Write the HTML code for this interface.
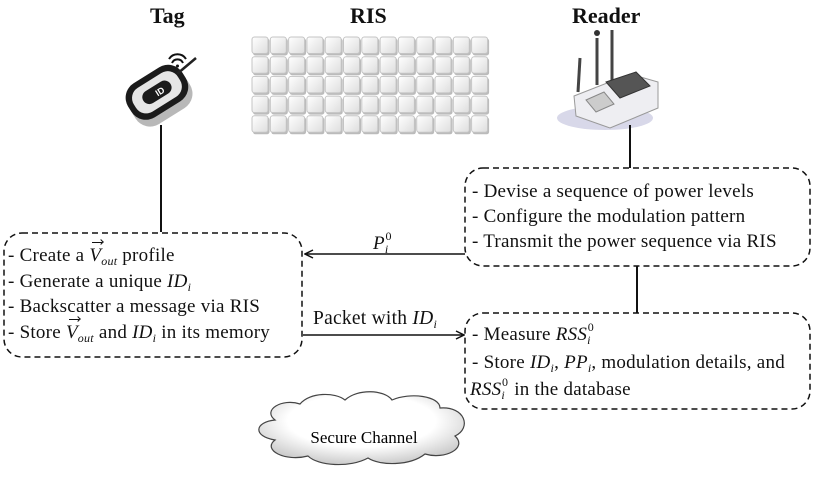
<!DOCTYPE html>
<html><head><meta charset="utf-8"><style>
html,body{margin:0;padding:0;background:#fff;}
body{width:814px;height:477px;position:relative;overflow:hidden;font-family:"Liberation Serif","DejaVu Serif",serif;color:#111;}
.t{position:absolute;font-size:19px;letter-spacing:0.25px;white-space:nowrap;line-height:1;}
.h{position:absolute;font-weight:bold;font-size:22px;line-height:1;}
i{font-style:italic;}
.sb{font-size:12px;font-style:italic;vertical-align:-4px;}
.sp{font-size:12px;position:relative;top:-9px;left:-3px;margin-right:-2px;}
.v{position:relative;font-style:italic;}
.v:before{content:"";position:absolute;left:3px;top:-3px;width:10px;border-top:1.3px solid #111;}
.v:after{content:"";position:absolute;left:10px;top:-5.5px;width:3px;height:3px;border-top:1.3px solid #111;border-right:1.3px solid #111;transform:rotate(45deg);}
</style></head><body>
<svg width="814" height="477" style="position:absolute;left:0;top:0">
<defs>
<linearGradient id="cg" x1="0" y1="0" x2="1" y2="1"><stop offset="0" stop-color="#fff"/><stop offset="1" stop-color="#ddd"/></linearGradient>
<radialGradient id="cl" cx="0.5" cy="0.4" r="0.6"><stop offset="0.6" stop-color="#fff"/><stop offset="1" stop-color="#ccc"/></radialGradient>
<marker id="ah" markerWidth="10" markerHeight="10" refX="9" refY="5" orient="auto" markerUnits="userSpaceOnUse"><path d="M1,1 L9,5 L1,9" fill="none" stroke="#111" stroke-width="1.5"/></marker>
</defs>
<g id="ris"></g>
<g transform="translate(158,94) rotate(-32)">
<rect x="-32" y="-14" width="64" height="40" rx="17" fill="#888" opacity="0.6"/>
<rect x="-32" y="-22" width="64" height="40" rx="17" fill="#1b1b1b"/>
<rect x="-26" y="-16" width="52" height="28" rx="12" fill="#e6e6e6"/>
<rect x="-16" y="-9" width="32" height="14" rx="7" fill="#1b1b1b"/>
<text x="3" y="2" font-size="9" fill="#fff" font-family="Liberation Sans" font-weight="bold" text-anchor="middle">ID</text>
</g>
<line x1="177" y1="74" x2="196" y2="58" stroke="#222" stroke-width="2.5"/>
<path d="M169,59 a10,10 0 0 1 17,0 M172,63 a6,6 0 0 1 11,0" fill="none" stroke="#111" stroke-width="2"/>
<circle cx="177.5" cy="66" r="1.5" fill="#111"/>
<ellipse cx="605" cy="118" rx="48" ry="12" fill="#c8c8e0" opacity="0.7"/>
<line x1="578" y1="92" x2="580" y2="58" stroke="#444" stroke-width="3"/>
<line x1="597" y1="85" x2="597" y2="38" stroke="#444" stroke-width="3"/>
<circle cx="597" cy="33" r="3" fill="#333"/>
<line x1="612" y1="80" x2="612" y2="30" stroke="#444" stroke-width="3"/>
<path d="M574,96 L630,74 L658,82 L658,108 L610,128 L576,116 Z" fill="#eeeef2" stroke="#999"/>
<path d="M606,82 L636,72 L650,86 L620,98 Z" fill="#555" stroke="#333"/>
<path d="M586,100 L604,92 L614,104 L596,112 Z" fill="#ccc" stroke="#888"/>
<line x1="161" y1="125" x2="161" y2="232" stroke="#111" stroke-width="2"/>
<line x1="630" y1="125" x2="630" y2="168" stroke="#111" stroke-width="2"/>
<line x1="637" y1="266" x2="637" y2="313" stroke="#111" stroke-width="2"/>
<rect x="4" y="233" width="298" height="124" rx="18" fill="none" stroke="#111" stroke-width="1.5" stroke-dasharray="6,4"/>
<rect x="465" y="168" width="345" height="98" rx="18" fill="none" stroke="#111" stroke-width="1.5" stroke-dasharray="6,4"/>
<rect x="465" y="313" width="345" height="96" rx="18" fill="none" stroke="#111" stroke-width="1.5" stroke-dasharray="6,4"/>
<line x1="465" y1="254" x2="305" y2="254" stroke="#111" stroke-width="1.5" marker-end="url(#ah)"/>
<line x1="303" y1="335" x2="464" y2="335" stroke="#111" stroke-width="1.5" marker-end="url(#ah)"/>
<path d="M275,420 C262,410 282,398 300,404 C310,392 335,392 345,400 C358,388 385,390 392,400 C410,392 440,396 440,408 C465,406 472,428 455,436 C468,448 445,460 425,454 C410,466 380,466 368,458 C350,468 318,466 308,456 C285,462 262,450 275,440 C252,436 255,422 275,420 Z" fill="url(#cl)" stroke="#444" stroke-width="1.2"/>
<text x="364" y="443" font-size="17" text-anchor="middle" font-family="Liberation Serif">Secure Channel</text>
</svg>
<script>
(function(){var g=document.getElementById('ris'),s='';for(var r=0;r<5;r++)for(var c=0;c<13;c++){var x=252+c*18.3,y=37+r*19.7;s+='<rect x="'+(x+1)+'" y="'+(y+1.5)+'" width="16.5" height="17" rx="2.5" fill="#bbb"/><rect x="'+x+'" y="'+y+'" width="16" height="16.5" rx="2.5" fill="url(#cg)" stroke="#c4c4c4" stroke-width="1"/>';}g.innerHTML=s;})();
</script>
<div class="h" style="left:150px;top:5px">Tag</div>
<div class="h" style="left:350px;top:5px">RIS</div>
<div class="h" style="left:572px;top:5px">Reader</div>

<div class="t" style="left:8px;top:246px">- Create a <span class="v">V</span><span class="sb">out</span> profile</div>
<div class="t" style="left:8px;top:272px">- Generate a unique <i>ID</i><span class="sb">i</span></div>
<div class="t" style="left:8px;top:297px">- Backscatter a message via RIS</div>
<div class="t" style="left:8px;top:323px">- Store <span class="v">V</span><span class="sb">out</span> and <i>ID</i><span class="sb">i</span> in its memory</div>

<div class="t" style="left:373px;top:234px"><i>P</i><span class="sb">i</span><span class="sp">0</span></div>
<div class="t" style="left:313px;top:309px;font-size:19.5px">Packet with <i>ID</i><span class="sb">i</span></div>

<div class="t" style="left:472px;top:182px">- Devise a sequence of power levels</div>
<div class="t" style="left:472px;top:207px">- Configure the modulation pattern</div>
<div class="t" style="left:472px;top:232px">- Transmit the power sequence via RIS</div>

<div class="t" style="left:472px;top:325px">- Measure <i>RSS</i><span class="sb">i</span><span class="sp">0</span></div>
<div class="t" style="left:472px;top:353px">- Store <i>ID</i><span class="sb">i</span>, <i>PP</i><span class="sb">i</span>, modulation details, and</div>
<div class="t" style="left:470px;top:380px"><i>RSS</i><span class="sb">i</span><span class="sp">0</span> in the database</div>
</body></html>
